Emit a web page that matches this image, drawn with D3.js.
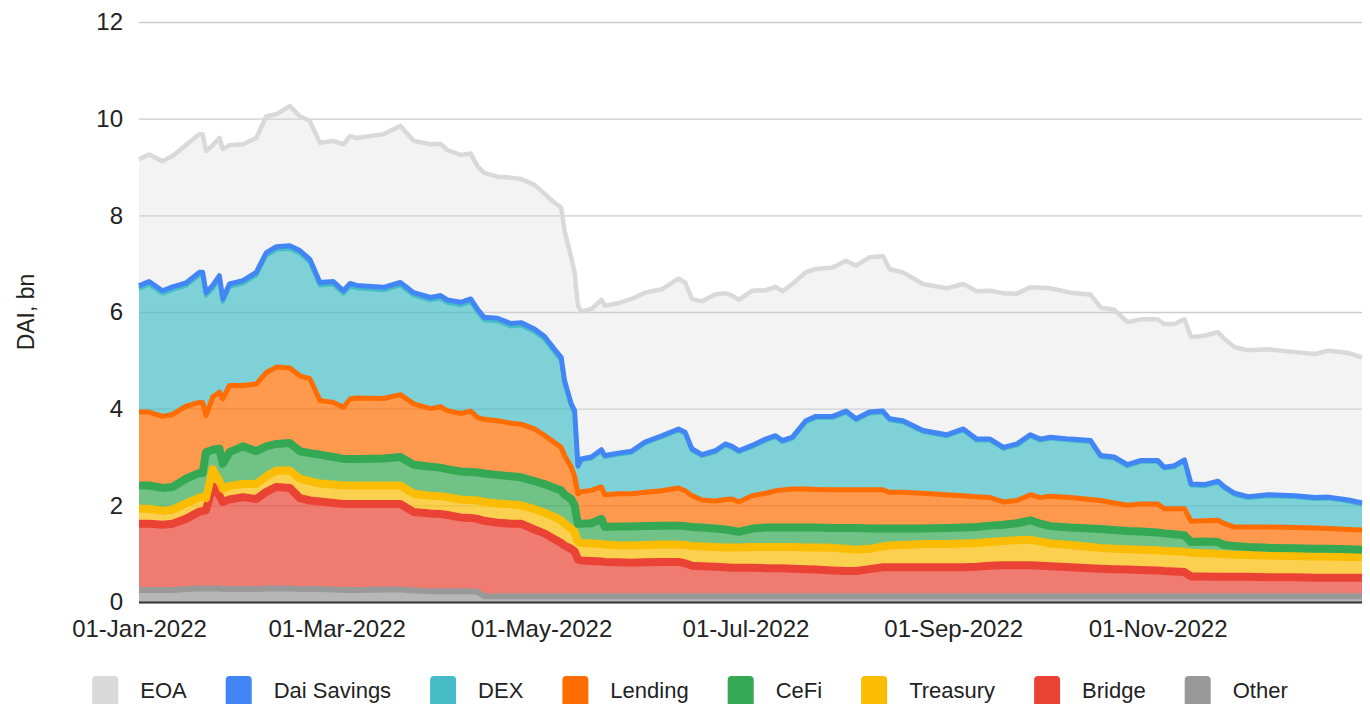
<!DOCTYPE html>
<html>
<head>
<meta charset="utf-8">
<script src="https://cdn.jsdelivr.net/npm/d3@7"></script>
<style>
  body { margin: 0; background: #fff; }
  text { font-family: "Liberation Sans", Arial, sans-serif; fill: #222; }
</style>
</head>
<body>
<div id="chart"></div>
<script>
const dates = [
  "2022-01-01","2022-01-04","2022-01-08","2022-01-11","2022-01-15","2022-01-19","2022-01-20","2022-01-21",
  "2022-01-23","2022-01-25","2022-01-26","2022-01-28","2022-02-01","2022-02-05","2022-02-08","2022-02-11",
  "2022-02-15","2022-02-18","2022-02-21","2022-02-24","2022-02-28","2022-03-03","2022-03-05","2022-03-07",
  "2022-03-15","2022-03-20","2022-03-24","2022-03-29","2022-04-01","2022-04-03","2022-04-07","2022-04-10",
  "2022-04-12","2022-04-14","2022-04-18","2022-04-22","2022-04-25","2022-04-29","2022-05-02","2022-05-05",
  "2022-05-07","2022-05-08","2022-05-10","2022-05-11","2022-05-12","2022-05-13","2022-05-16","2022-05-19",
  "2022-05-20","2022-05-24","2022-05-28","2022-06-01","2022-06-06","2022-06-11","2022-06-13","2022-06-15",
  "2022-06-18","2022-06-22","2022-06-25","2022-06-27","2022-06-29","2022-07-03","2022-07-07","2022-07-10",
  "2022-07-12","2022-07-15","2022-07-19","2022-07-22","2022-07-27","2022-07-31","2022-08-03","2022-08-07",
  "2022-08-11","2022-08-13","2022-08-17","2022-08-23","2022-08-30","2022-09-04","2022-09-08","2022-09-12",
  "2022-09-16","2022-09-20","2022-09-24","2022-09-27","2022-09-30","2022-10-06","2022-10-12","2022-10-15",
  "2022-10-19","2022-10-23","2022-10-27","2022-11-01","2022-11-03","2022-11-06","2022-11-09","2022-11-11",
  "2022-11-15","2022-11-19","2022-11-21","2022-11-24","2022-11-28","2022-12-04","2022-12-12","2022-12-18",
  "2022-12-22","2022-12-28","2023-01-01"
];

// DAI held per category, bn
const other = [
  .25,.25,.25,.25,.27,.28,.28,.28,.28,.28,.27,.27,.27,.27,.28,.28,
  .28,.27,.27,.27,.26,.25,.25,.25,.26,.26,.24,.22,.22,.22,.22,.22,
  .21,.12,.12,.12,.12,.12,.12,.12,.12,.12,.12,.12,.12,.12,.12,.12,
  .12,.12,.12,.12,.12,.12,.12,.12,.12,.12,.12,.12,.12,.12,.12,.12,
  .12,.12,.12,.12,.12,.12,.12,.12,.12,.12,.12,.12,.12,.12,.12,.12,
  .12,.12,.12,.12,.12,.12,.12,.12,.12,.12,.12,.12,.12,.12,.12,.12,
  .12,.12,.12,.12,.12,.12,.12,.12,.12,.12,.12
];
const bridge = [
  1.37,1.37,1.35,1.37,1.45,1.59,1.6,1.62,2.12,1.92,1.8,1.85,1.9,1.86,2.0,2.1,
  2.08,1.88,1.83,1.81,1.79,1.78,1.78,1.78,1.77,1.77,1.62,1.61,1.6,1.58,1.53,1.52,
  1.51,1.56,1.52,1.5,1.5,1.38,1.3,1.18,1.1,1.05,.98,.93,.76,.74,.73,.72,
  .71,.7,.69,.7,.71,.71,.68,.63,.62,.61,.6,.59,.59,.59,.58,.58,
  .58,.57,.56,.55,.53,.52,.52,.56,.6,.6,.6,.6,.6,.6,.61,.63,
  .64,.64,.64,.63,.62,.6,.58,.57,.56,.55,.54,.53,.52,.51,.5,.41,
  .41,.4,.4,.4,.4,.39,.39,.38,.38,.38,.38
];
const treasury = [
  .31,.31,.29,.29,.32,.29,.3,.25,.35,.3,.27,.28,.27,.31,.32,.34,
  .36,.4,.4,.37,.38,.38,.38,.38,.38,.38,.38,.37,.37,.37,.37,.37,
  .38,.39,.4,.4,.38,.42,.43,.46,.47,.45,.42,.4,.37,.36,.36,.36,
  .36,.35,.36,.36,.36,.36,.38,.41,.41,.41,.41,.42,.42,.43,.44,.44,
  .44,.45,.45,.46,.47,.46,.44,.42,.43,.45,.46,.48,.48,.49,.49,.49,
  .5,.52,.53,.5,.47,.46,.44,.43,.42,.42,.42,.42,.42,.42,.42,.49,
  .48,.48,.47,.46,.45,.45,.44,.44,.44,.43,.43
];
const cefi = [
  .48,.48,.47,.47,.51,.51,.49,.95,.4,.67,.52,.7,.78,.68,.62,.55,
  .57,.57,.58,.6,.57,.55,.55,.55,.56,.59,.6,.6,.59,.58,.58,.58,
  .58,.59,.59,.58,.58,.58,.59,.6,.62,.6,.61,.55,.37,.4,.42,.52,
  .36,.39,.39,.39,.39,.39,.39,.39,.39,.38,.37,.35,.32,.38,.4,.4,
  .4,.4,.41,.41,.41,.43,.45,.42,.37,.35,.34,.32,.33,.33,.33,.34,
  .34,.35,.4,.37,.36,.36,.38,.39,.39,.38,.38,.37,.36,.35,.34,.22,
  .24,.24,.19,.18,.17,.16,.16,.16,.16,.16,.15
];
const lending = [
  1.52,1.52,1.48,1.5,1.5,1.46,1.46,.76,1.09,1.17,1.34,1.38,1.26,1.39,1.53,1.59,
  1.55,1.56,1.54,1.12,1.13,1.07,1.24,1.26,1.24,1.29,1.26,1.2,1.26,1.21,1.2,1.26,
  1.14,1.12,1.12,1.1,1.1,1.08,1.01,.94,.89,.81,.66,.6,.62,.66,.68,.66,
  .67,.68,.68,.7,.72,.78,.73,.65,.57,.57,.62,.65,.62,.68,.71,.76,
  .78,.8,.8,.79,.79,.79,.79,.8,.8,.75,.75,.73,.69,.66,.63,.58,
  .47,.47,.53,.54,.62,.62,.6,.59,.56,.53,.57,.59,.51,.53,.55,.43,
  .43,.45,.44,.39,.41,.43,.43,.43,.42,.41,.41
];
const dex = [
  2.55,2.64,2.54,2.58,2.49,2.63,2.63,2.48,2.25,2.35,2.01,2.04,2.11,2.25,2.42,2.43,
  2.47,2.53,2.41,2.38,2.44,2.35,2.33,2.27,2.24,2.26,2.24,2.24,2.24,2.23,2.24,2.26,
  2.18,2.05,2.06,2.0,2.04,2.01,1.99,1.87,1.8,1.49,1.25,1.3,.55,.65,.66,.74,
  .78,.81,.85,1.01,1.11,1.19,1.18,.94,.91,1.01,1.12,1.06,1.03,1.01,1.09,1.11,
  .99,1.04,1.38,1.48,1.49,1.6,1.44,1.58,1.6,1.49,1.45,1.27,1.21,1.35,1.16,1.18,
  1.1,1.14,1.21,1.18,1.19,1.18,1.19,.9,.92,.81,.87,.87,.83,.86,.98,.74,
  .72,.78,.73,.67,.6,.64,.63,.6,.62,.58,.53
];
const daiSavings = [
  .06,.06,.06,.06,.06,.06,.06,.06,.06,.06,.06,.06,.06,.06,.06,.06,
  .06,.06,.06,.06,.06,.06,.06,.06,.06,.06,.06,.06,.06,.06,.06,.06,
  .06,.06,.06,.06,.06,.06,.06,.06,.06,.06,.06,.06,.03,.03,.03,.03,
  .03,.03,.03,.03,.03,.03,.03,.03,.03,.03,.03,.03,.03,.03,.03,.03,
  .03,.03,.03,.03,.03,.03,.03,.03,.03,.03,.03,.03,.03,.03,.03,.03,
  .03,.03,.03,.03,.03,.03,.03,.03,.03,.03,.03,.03,.03,.03,.03,.03,
  .03,.03,.03,.03,.03,.03,.03,.03,.03,.03,.03
];
const eoa = [
  2.62,2.63,2.68,2.71,2.85,2.86,2.86,2.93,2.9,2.85,3.1,2.87,2.82,2.78,2.82,2.74,
  2.89,2.78,2.86,2.89,2.91,3.03,3.05,3.05,3.17,3.24,3.14,3.17,3.14,3.1,3.05,3.01,
  2.96,2.99,2.93,3.02,2.97,2.98,2.95,3.03,3.1,3.1,3.03,2.86,3.31,3.05,3.06,3.1,
  3.1,3.1,3.15,3.09,3.03,3.11,3.1,3.1,3.17,3.23,3.12,3.12,3.12,3.2,3.08,3.08,
  3.09,3.17,3.07,3.05,3.08,3.11,3.17,3.2,3.21,3.1,3.07,3.03,3.03,3.0,3.06,3.07,
  3.19,3.11,3.05,3.13,3.08,3.03,3.02,3.06,3.05,2.95,2.92,2.92,2.96,2.93,2.91,3.04,
  3.08,3.08,3.06,3.02,3.03,3.01,2.97,2.97,3.03,3.04,3.01
];

// stacking order, bottom to top
const keys = ["Other", "Bridge", "Treasury", "CeFi", "Lending", "DEX", "Dai Savings", "EOA"];
const seriesData = [other, bridge, treasury, cefi, lending, dex, daiSavings, eoa];
// legend order
const legendLabels = ["EOA", "Dai Savings", "DEX", "Lending", "CeFi", "Treasury", "Bridge", "Other"];
const yTicks = [0, 2, 4, 6, 8, 10, 12];
const xTickDates = ["2022-01-01", "2022-03-01", "2022-05-01", "2022-07-01", "2022-09-01", "2022-11-01"];

const colors = {
  "EOA": "#d9d9d9", "Dai Savings": "#4285f4", "DEX": "#46bdc6", "Lending": "#ff6d01",
  "CeFi": "#34a853", "Treasury": "#fbbc04", "Bridge": "#ea4335", "Other": "#999999"
};
const strokeW = {
  "EOA": 4.5, "Dai Savings": 5, "DEX": 4, "Lending": 5,
  "CeFi": 8, "Treasury": 8, "Bridge": 8, "Other": 6
};

const width = 1370;
const height = 704;
const margin = { top: 22, right: 8, bottom: 102, left: 139 };

const parse = d3.utcParse("%Y-%m-%d");
const rows = dates.map((d, i) => {
  const r = { date: parse(d) };
  keys.forEach((k, j) => r[k] = seriesData[j][i]);
  return r;
});

const layers = d3.stack().keys(keys)(rows);

const x = d3.scaleUtc()
  .domain(d3.extent(rows, d => d.date))
  .range([margin.left, width - margin.right]);
const y = d3.scaleLinear()
  .domain([0, 12])
  .range([height - margin.bottom, margin.top]);

const svg = d3.select("#chart")
  .append("svg")
  .attr("width", width)
  .attr("height", height);

// grid + y labels
svg.append("g")
  .attr("transform", `translate(${margin.left},0)`)
  .call(d3.axisLeft(y).tickValues(yTicks).tickSize(-(width - margin.left - margin.right)).tickPadding(16))
  .call(g => g.select(".domain").remove())
  .call(g => g.selectAll(".tick line").attr("stroke", "#cccccc").attr("stroke-width", 1.3))
  .call(g => g.selectAll(".tick text").attr("font-size", 24).attr("fill", "#222"));

// areas
const area = d3.area()
  .x(d => x(d.data.date))
  .y0(d => y(d[0]))
  .y1(d => y(d[1]));

svg.append("g")
  .selectAll("path")
  .data(layers)
  .join("path")
  .attr("d", area)
  .attr("fill", d => colors[d.key])
  .attr("fill-opacity", d => d.key === "EOA" ? 0.32 : 0.7);

// top lines
const line = d3.line()
  .x(d => x(d.data.date))
  .y(d => y(d[1]));

svg.append("g")
  .selectAll("path")
  .data(layers)
  .join("path")
  .attr("d", line)
  .attr("fill", "none")
  .attr("stroke", d => colors[d.key])
  .attr("stroke-width", d => strokeW[d.key])
  .attr("stroke-linejoin", "round");

// baseline
svg.append("line")
  .attr("x1", margin.left)
  .attr("x2", width - margin.right)
  .attr("y1", y(0) + 0.5)
  .attr("y2", y(0) + 0.5)
  .attr("stroke", "#333")
  .attr("stroke-width", 2);

// x axis
svg.append("g")
  .attr("transform", `translate(0,${y(0)})`)
  .call(d3.axisBottom(x).tickValues(xTickDates.map(parse)).tickFormat(d3.utcFormat("%d-%b-%Y")).tickSize(0).tickPadding(18))
  .call(g => g.select(".domain").remove())
  .call(g => g.selectAll(".tick text").attr("font-size", 24).attr("fill", "#222"));

// y title
svg.append("text")
  .attr("transform", `translate(34,${(y(0) + y(12)) / 2}) rotate(-90)`)
  .attr("text-anchor", "middle")
  .attr("font-size", 23)
  .text("DAI, bn");

// legend
const legend = svg.append("g");
const items = legend.selectAll("g")
  .data(legendLabels)
  .join("g");
items.append("rect")
  .attr("width", 26)
  .attr("height", 34)
  .attr("y", 676)
  .attr("rx", 4)
  .attr("fill", d => colors[d]);
items.append("text")
  .attr("x", 48)
  .attr("y", 698)
  .attr("font-size", 22)
  .text(d => d);

let cx = 0;
const offsets = [];
items.each(function() {
  offsets.push(cx);
  const w = d3.select(this).select("text").node().getComputedTextLength();
  cx += 48 + w + 39;
});
const totalW = cx - 39;
const startX = 690 - totalW / 2;
items.attr("transform", (d, i) => `translate(${startX + offsets[i]},0)`);
</script>
</body>
</html>
